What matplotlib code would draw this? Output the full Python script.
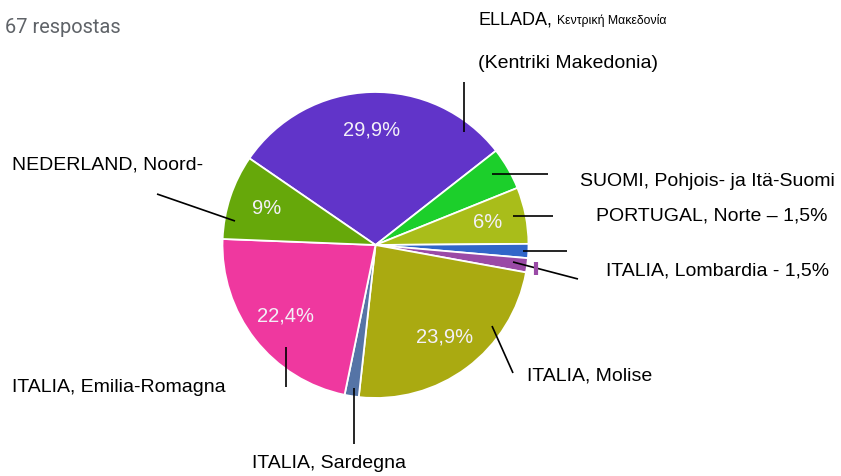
import matplotlib
matplotlib.use("Agg")
import matplotlib.pyplot as plt

# Responses per region (67 in total)
regions = [
    "ELLADA, Kentriki Makedonia",
    "SUOMI, Pohjois- ja Itä-Suomi",
    "PORTUGAL, Norte",
    "PORTUGAL, other",
    "ITALIA, Lombardia",
    "ITALIA, Molise",
    "ITALIA, Sardegna",
    "ITALIA, Emilia-Romagna",
    "NEDERLAND, Noord-",
]
counts = [20, 3, 4, 1, 1, 16, 1, 15, 6]
colors = ["#6134c9", "#1ccf2b", "#a9bd1a", "#3166c9", "#9a4aa6",
          "#aaaa11", "#5574a6", "#ef389f", "#66a80a"]
total_label = "67 respostas"

# Layout, in pixels of the 841x476 image
W, H = 841, 476
CX, CY, R = 375.5, 245, 153


def px(x, y):
    """Convert image pixel position to pie data coordinates."""
    return (x - CX) / R, (CY - y) / R


def pct_label(p):
    if p < 5:
        return ""
    s = f"{p:.1f}".rstrip("0").rstrip(".")
    return s.replace(".", ",") + "%"


fig = plt.figure(figsize=(W / 100, H / 100), dpi=100, facecolor="white")
ax = fig.add_axes([0, 0, 1, 1])

wedges, texts, autotexts = ax.pie(
    counts,
    colors=colors,
    startangle=145.5,
    counterclock=False,
    radius=1,
    center=(0, 0),
    autopct=pct_label,
    pctdistance=0.75,
    wedgeprops=dict(edgecolor="white", linewidth=1.3),
    textprops=dict(color="#f3f0f8", fontsize=14.5, family="Liberation Sans"),
)

ax.set_xlim(-CX / R, (W - CX) / R)
ax.set_ylim(-(H - CY) / R, CY / R)
ax.set_aspect("auto")
ax.axis("off")

# subtitle
ax.text(*px(5, 27), total_label, fontsize=14.4, color="#5f6368",
        family="Roboto", va="center", ha="left")

# hand-placed labels and leader lines
lbl = dict(fontsize=14, color="black", family="Liberation Sans",
           va="center", ha="left")
ax.text(*px(478, 24), "ELLADA,", fontsize=13, family="Liberation Sans",
        va="baseline", ha="left")
ax.text(*px(557, 24), "Κεντρική Μακεδονία", fontsize=8.8,
        family="Liberation Sans", va="baseline", ha="left")
ax.text(*px(478, 63), "(Kentriki Makedonia)", **lbl)
ax.text(*px(12, 165), "NEDERLAND, Noord-", **lbl)
ax.text(*px(580, 181), "SUOMI, Pohjois- ja Itä-Suomi", **lbl)
ax.text(*px(596, 216), "PORTUGAL, Norte – 1,5%", **lbl)
ax.text(*px(606, 271), "ITALIA, Lombardia - 1,5%", **lbl)
ax.text(*px(527, 376), "ITALIA, Molise", **lbl)
ax.text(*px(12, 387), "ITALIA, Emilia-Romagna", **lbl)
ax.text(*px(252, 463), "ITALIA, Sardegna", **lbl)

leaders = [
    ((464, 82), (464, 132)),
    ((157, 194), (235, 221)),
    ((492, 174), (548, 174)),
    ((513, 216), (553, 216)),
    ((523, 251), (567, 251)),
    ((513, 262), (578, 279)),
    ((492, 326), (513, 373)),
    ((286, 347), (286, 387)),
    ((354, 388), (354, 444)),
]
for p0, p1 in leaders:
    x0, y0 = px(*p0)
    x1, y1 = px(*p1)
    ax.plot([x0, x1], [y0, y1], color="black", lw=1.2, solid_capstyle="butt")

# small purple tick next to the Lombardia slice
t0 = px(536, 262)
t1 = px(536, 275)
ax.plot([t0[0], t1[0]], [t0[1], t1[1]], color=colors[4], lw=3,
        solid_capstyle="butt")

fig.savefig("out.png", dpi=100, facecolor="white")
